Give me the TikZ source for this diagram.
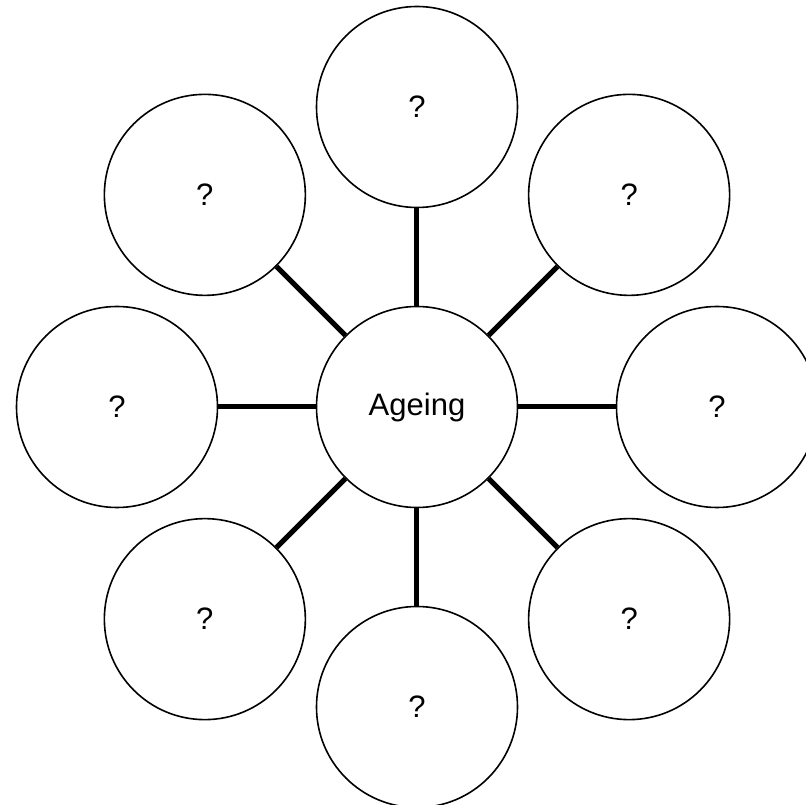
\documentclass[tikz,border=0pt]{standalone}
\usepackage{fontspec}
\setmainfont{Liberation Sans}
\usepackage{tikz}

\begin{document}
\begin{tikzpicture}[x=1pt,y=1pt,
        bubble/.style={circle,draw,line width=1.6pt,minimum size=201pt,
            inner sep=0pt,font=\fontsize{31}{36}\selectfont},
        spoke/.style={line width=5pt}]
        \useasboundingbox (-417,-398) rectangle (389,407);
        % centre
        \node [bubble] (ageing) at (0,0) {Ageing};
        % outer ring
        \foreach \a in {0,45,...,315}
        {
            \node [bubble] (q\a) at (\a:300) {?};
            \draw [spoke] (ageing) -- (q\a);
        }
    \end{tikzpicture}
\end{document}
